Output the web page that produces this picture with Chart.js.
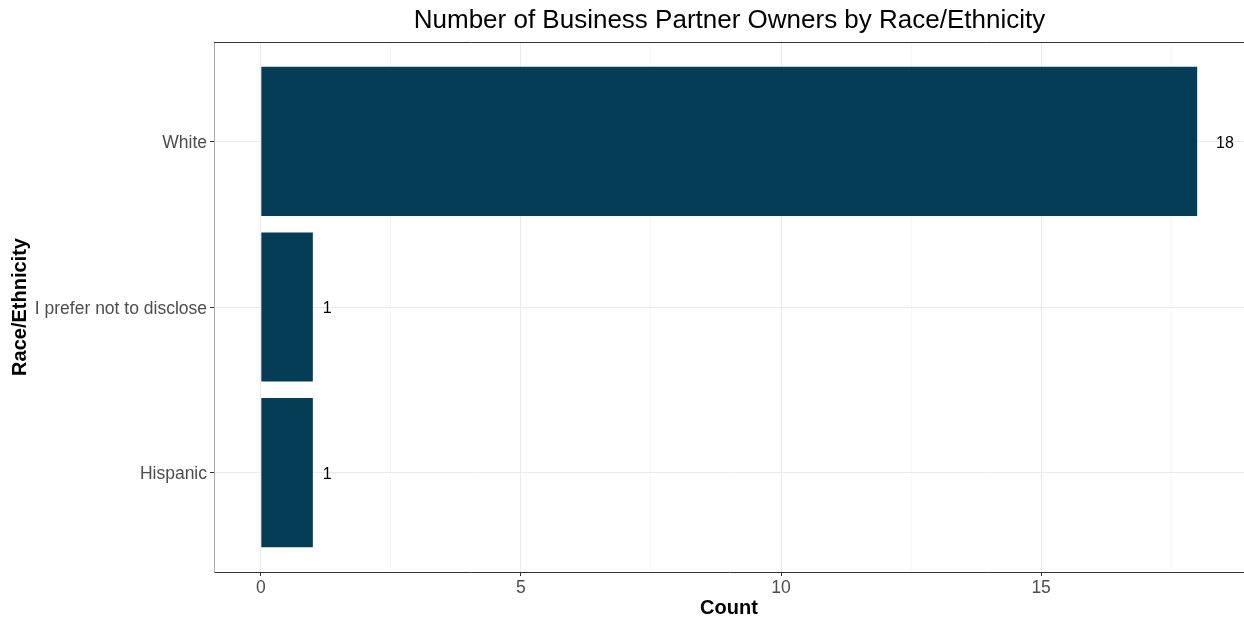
<!DOCTYPE html>
<html>
<head>
<meta charset="utf-8">
<script src="https://cdn.jsdelivr.net/npm/chart.js@4.4.1/dist/chart.umd.min.js"></script>
<style>
  html, body { margin: 0; padding: 0; background: #fff; overflow: hidden; }
  #wrap { width: 1244px; height: 621px; }
</style>
</head>
<body>
<div id="wrap"><canvas id="raceChart"></canvas></div>
<script>
// data, top to bottom as drawn
const categories = ['White', 'I prefer not to disclose', 'Hispanic'];
const counts = [18, 1, 1];
const xTicks = [0, 2.5, 5, 7.5, 10, 12.5, 15, 17.5];

const FONT = "'Liberation Sans', Arial, sans-serif";
const n = categories.length;

const barData = categories.map((c, i) => ({ x: counts[i], y: n - i }));

const panelExtras = {
    id: 'panelExtras',
    afterDatasetsDraw(chart) {
        const { ctx, chartArea: { left, top, right } } = chart;
        ctx.save();
        // value labels, offset by their own width (hjust = -1)
        ctx.font = '16px ' + FONT;
        ctx.fillStyle = '#000';
        ctx.textAlign = 'left';
        ctx.textBaseline = 'middle';
        chart.getDatasetMeta(0).data.forEach((bar, i) => {
            const txt = String(counts[i]);
            const w = ctx.measureText(txt).width;
            ctx.fillText(txt, bar.x + w + 1, bar.y + 2);
        });
        // top border of panel
        ctx.strokeStyle = '#333333';
        ctx.lineWidth = 1;
        ctx.beginPath();
        ctx.moveTo(left, top + 0.5);
        ctx.lineTo(right, top + 0.5);
        ctx.stroke();
        // title, centred over panel
        ctx.font = '26px ' + FONT;
        ctx.textAlign = 'center';
        ctx.fillText('Number of Business Partner Owners by Race/Ethnicity', (left + 1245) / 2, 21);
        ctx.restore();
    }
};

const ctx = document.getElementById('raceChart').getContext('2d');

const raceChart = new Chart(ctx, {
    type: 'bar',
    plugins: [panelExtras],
    data: {
        datasets: [{
            data: barData,
            backgroundColor: '#053D57',
            borderWidth: 0,
            barPercentage: 0.9,
            categoryPercentage: 1
        }]
    },
    options: {
        indexAxis: 'y',
        responsive: true,
        maintainAspectRatio: false,
        animation: false,
        layout: { padding: { top: 42, left: 0, right: 0, bottom: 0 } },
        plugins: {
            legend: { display: false },
            tooltip: { enabled: false }
        },
        scales: {
            x: {
                type: 'linear',
                min: -0.9,
                max: 18.9,
                afterBuildTicks: s => { s.ticks = xTicks.map(v => ({ value: v })); },
                afterFit: s => { s.height = 49; },
                grid: {
                    color: c => (c.tick && c.tick.value % 5 === 0) ? '#EBEBEB' : '#F4F4F4',
                    lineWidth: c => (c.tick && c.tick.value % 5 === 0) ? 1 : 0.7,
                    tickColor: c => (c.tick && c.tick.value % 5 === 0) ? '#333333' : 'rgba(0,0,0,0)',
                    tickLength: 4
                },
                border: { color: '#333333', width: 1 },
                ticks: {
                    autoSkip: false,
                    maxRotation: 0,
                    padding: 2,
                    color: '#4D4D4D',
                    font: { family: FONT, size: 17.5 },
                    callback: v => (v % 5 === 0 ? v : '')
                },
                title: {
                    display: true,
                    text: 'Count',
                    color: '#000',
                    font: { family: FONT, size: 20, weight: 'bold' },
                    padding: { top: 0, bottom: 1 }
                }
            },
            y: {
                type: 'linear',
                offset: false,
                min: 0.4,
                max: n + 0.6,
                afterBuildTicks: s => { s.ticks = categories.map((c, i) => ({ value: n - i })); },
                afterFit: s => { s.width = 214; },
                grid: {
                    offset: false,
                    color: '#EBEBEB',
                    tickColor: '#333333',
                    tickLength: 4
                },
                border: { color: '#AAAAAA', width: 1 },
                ticks: {
                    autoSkip: false,
                    padding: 3,
                    labelOffset: 2,
                    color: '#4D4D4D',
                    font: { family: FONT, size: 17.5 },
                    callback: v => categories[n - v]
                },
                title: {
                    display: true,
                    text: 'Race/Ethnicity',
                    color: '#000',
                    font: { family: FONT, size: 20, weight: 'bold' },
                    padding: { top: 8, bottom: 0 }
                }
            }
        }
    }
});
</script>
</body>
</html>
